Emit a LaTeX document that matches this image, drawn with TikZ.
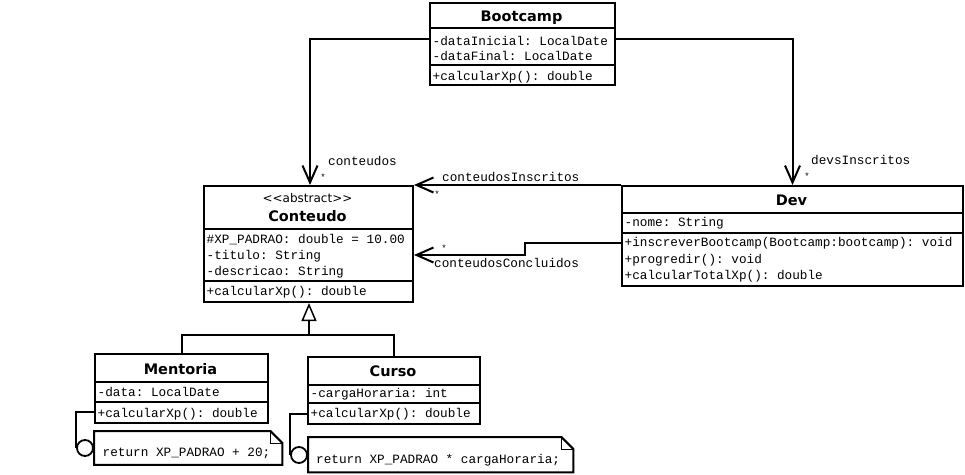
\documentclass[tikz,border=0pt]{standalone}
\usepackage{fontspec}
\setmonofont{Liberation Mono}
\newfontfamily\dvs{DejaVu Sans}
\usetikzlibrary{arrows.meta}
\tikzset{
  box/.style={draw, line width=2pt, inner sep=0pt, anchor=north west},
  sep/.style={line width=2pt},
  mono/.style={font=\fontsize{12.7}{14}\selectfont\ttfamily, inner sep=0pt, anchor=base west},
  ttl/.style={font=\fontsize{14.5}{16}\selectfont\dvs\bfseries, inner sep=0pt, anchor=base},
  ster/.style={font=\fontsize{12}{14}\selectfont\dvs, inner sep=0pt, anchor=base},
  star/.style={font=\fontsize{9}{10}\selectfont\ttfamily, inner sep=0pt, anchor=base},
  assoc/.style={line width=2pt, -{Straight Barb[length=17pt,width=15pt]}},
  gen/.style={line width=2pt},
  notebox/.style={inner sep=0pt, anchor=north west},
  noteline/.style={line width=2pt},
  foldline/.style={line width=1pt},
  anchorcirc/.style={circle, draw, line width=1.8pt, minimum size=16pt, inner sep=0pt},
}
\begin{document}
\begin{tikzpicture}[x=1pt,y=-1pt]
\useasboundingbox (0,0) rectangle (965,474);

% ---------- Bootcamp ----------
\node[box, minimum width=185pt, minimum height=82pt] (bootcamp) at (429,2) {};
\draw[sep] (bootcamp.west |- 0,28) -- (bootcamp.east |- 0,28);
\draw[sep] (bootcamp.west |- 0,65) -- (bootcamp.east |- 0,65);
\node[ttl] (bootcampT) at (521.5,21) {Bootcamp};
\node[mono] (b1) at (432.5,45) {-dataInicial: LocalDate};
\node[mono] (b2) at (432.5,60) {-dataFinal: LocalDate};
\node[mono] (b3) at (432.5,80) {+calcularXp(): double};

% ---------- Conteudo ----------
\node[box, minimum width=209pt, minimum height=116pt] (conteudo) at (203,185) {};
\draw[sep] (conteudo.west |- 0,229) -- (conteudo.east |- 0,229);
\draw[sep] (conteudo.west |- 0,281) -- (conteudo.east |- 0,281);
\node[ster] (cS) at (307.5,202) {<<abstract>>};
\node[ttl] (cT) at (307.5,221) {Conteudo};
\node[mono] (c1) at (206.5,243.3) {\#XP\_PADRAO: double = 10.00};
\node[mono] (c2) at (206.5,259.3) {-titulo: String};
\node[mono] (c3) at (206.5,275) {-descricao: String};
\node[mono] (c4) at (206.5,295.7) {+calcularXp(): double};

% ---------- Dev ----------
\node[box, minimum width=341pt, minimum height=100pt] (dev) at (621,185) {};
\draw[sep] (dev.west |- 0,213) -- (dev.east |- 0,213);
\draw[sep] (dev.west |- 0,233) -- (dev.east |- 0,233);
\node[ttl] (dT) at (791.5,205) {Dev};
\node[mono] (d1) at (624.5,226.7) {-nome: String};
\node[mono] (d2) at (624.5,246.7) {+inscreverBootcamp(Bootcamp:bootcamp): void};
\node[mono] (d3) at (624.5,263.3) {+progredir(): void};
\node[mono] (d4) at (624.5,279) {+calcularTotalXp(): double};

% ---------- Mentoria ----------
\node[box, minimum width=173pt, minimum height=69pt] (mentoria) at (94,353) {};
\draw[sep] (mentoria.west |- 0,382) -- (mentoria.east |- 0,382);
\draw[sep] (mentoria.west |- 0,402) -- (mentoria.east |- 0,402);
\node[ttl] (mT) at (180.5,374) {Mentoria};
\node[mono] (m1) at (97.5,396.7) {-data: LocalDate};
\node[mono] (m2) at (97.5,417.3) {+calcularXp(): double};

% ---------- Curso ----------
\node[box, minimum width=172pt, minimum height=67pt] (curso) at (307,356) {};
\draw[sep] (curso.west |- 0,385) -- (curso.east |- 0,385);
\draw[sep] (curso.west |- 0,403) -- (curso.east |- 0,403);
\node[ttl] (kT) at (393,376) {Curso};
\node[mono] (k1) at (310.5,397.7) {-cargaHoraria: int};
\node[mono] (k2) at (310.5,417.7) {+calcularXp(): double};

% ---------- Notes ----------
\node[notebox, minimum width=188pt, minimum height=33.5pt] (noteM) at (94,431) {};
\draw[noteline] (noteM.north west) -- ([xshift=-12pt]noteM.north east) -- ([yshift=-12pt]noteM.north east) -- (noteM.south east) -- (noteM.south west) -- cycle;
\draw[foldline] ([xshift=-12pt]noteM.north east) -- ([xshift=-12pt,yshift=-12pt]noteM.north east) -- ([yshift=-12pt]noteM.north east);
\node[mono] (nM) at (102.5,456.7) {return XP\_PADRAO + 20;};

\node[notebox, minimum width=265pt, minimum height=35pt] (noteC) at (308,437) {};
\draw[noteline] (noteC.north west) -- ([xshift=-12pt]noteC.north east) -- ([yshift=-12pt]noteC.north east) -- (noteC.south east) -- (noteC.south west) -- cycle;
\draw[foldline] ([xshift=-12pt]noteC.north east) -- ([xshift=-12pt,yshift=-12pt]noteC.north east) -- ([yshift=-12pt]noteC.north east);
\node[mono] (nC) at (316,463.3) {return XP\_PADRAO * cargaHoraria;};

\node[anchorcirc] (circM) at (85,448) {};
\node[anchorcirc] (circC) at (299,455) {};
\draw[noteline] (mentoria.west |- 0,412) -| (circM.west);
\draw[noteline] (curso.west |- 0,414) -| (circC.west);

% ---------- Associations ----------
\draw[assoc] (bootcamp.west |- 0,39) -| ([xshift=1.5pt]conteudo.north);
\draw[assoc] (bootcamp.east |- 0,39) -| (dev.north);
\draw[assoc] (dev.north west) -- (conteudo.north east);
\coordinate (bend1) at (525,243);
\coordinate (bend2) at (525,255);
\draw[assoc] (dev.west |- bend1) -- (bend1) -- (bend2) -- (conteudo.east |- bend2);

\node[mono] (l1) at (328,165.7) {conteudos};
\node[star] (s1) at (323,180) {*};
\node[mono] (l2) at (442,181.7) {conteudosInscritos};
\node[star] (s2) at (437,197) {*};
\node[star] (s3) at (444,251) {*};
\node[mono] (l3) at (434,267.3) {conteudosConcluidos};
\node[mono] (l4) at (811,164.3) {devsInscritos};
\node[star] (s4) at (807,179) {*};

% ---------- Generalization ----------
\coordinate (gj) at (309,335);
\draw[gen, -{Triangle[open,length=18pt,width=15pt,line width=1.5pt]}] (gj) -- (conteudo.south -| gj);
\draw[gen] (mentoria.north) |- (curso.north |- gj) -- (curso.north);
\end{tikzpicture}
\end{document}
